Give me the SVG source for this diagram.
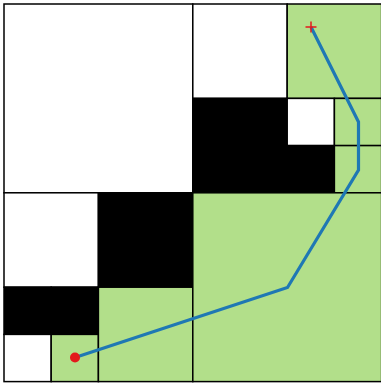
<svg xmlns="http://www.w3.org/2000/svg" width="381" height="386" viewBox="0 0 381 386">
<style>
.c{stroke:#000;stroke-width:1.5}
.w{fill:#fff}
.g{fill:#b2df8a}
.k{fill:#000}
.path{fill:none;stroke:#1f78b4;stroke-width:3.2;stroke-linejoin:miter}
</style>
<rect width="381" height="386" fill="#fff"/>
<g id="cells">
<g id="q-tl"><rect class="c w" x="4" y="4" width="188.8" height="188.8"/></g>
<g id="q-tr-tl"><rect class="c w" x="192.8" y="4" width="94.4" height="94.4"/></g>
<g id="q-tr-tr"><rect class="c g" x="287.2" y="4" width="94.4" height="94.4"/></g>
<g id="q-tr-bl"><rect class="c k" x="192.8" y="98.4" width="94.4" height="94.4"/></g>
<g id="q-tr-br-1"><rect class="c w" x="287.2" y="98.4" width="47.2" height="47.2"/></g>
<g id="q-tr-br-2"><rect class="c g" x="334.4" y="98.4" width="47.2" height="47.2"/></g>
<g id="q-tr-br-3"><rect class="c k" x="287.2" y="145.6" width="47.2" height="47.2"/></g>
<g id="q-tr-br-4"><rect class="c g" x="334.4" y="145.6" width="47.2" height="47.2"/></g>
<g id="q-bl-tl"><rect class="c w" x="4" y="192.8" width="94.4" height="94.4"/></g>
<g id="q-bl-tr"><rect class="c k" x="98.4" y="192.8" width="94.4" height="94.4"/></g>
<g id="q-bl-bl-1"><rect class="c k" x="4" y="287.2" width="47.2" height="47.2"/></g>
<g id="q-bl-bl-2"><rect class="c k" x="51.2" y="287.2" width="47.2" height="47.2"/></g>
<g id="q-bl-bl-3"><rect class="c w" x="4" y="334.4" width="47.2" height="47.2"/></g>
<g id="q-bl-bl-4"><rect class="c g" x="51.2" y="334.4" width="47.2" height="47.2"/></g>
<g id="q-bl-br"><rect class="c g" x="98.4" y="287.2" width="94.4" height="94.4"/></g>
<g id="q-br"><rect class="c g" x="192.8" y="192.8" width="188.8" height="188.8"/></g>
</g>
<g id="connectors">
<polyline class="path" points="75,357.5 287.5,287.5 358.5,170 358.5,122 311,27"/>
</g>
<g id="start"><circle cx="75" cy="357.5" r="5" fill="#e31a1c"/></g>
<g id="goal"><path d="M305.5,27H316.5M311,21.5V32.5" stroke="#e31a1c" stroke-width="1.5" fill="none"/></g>
</svg>
